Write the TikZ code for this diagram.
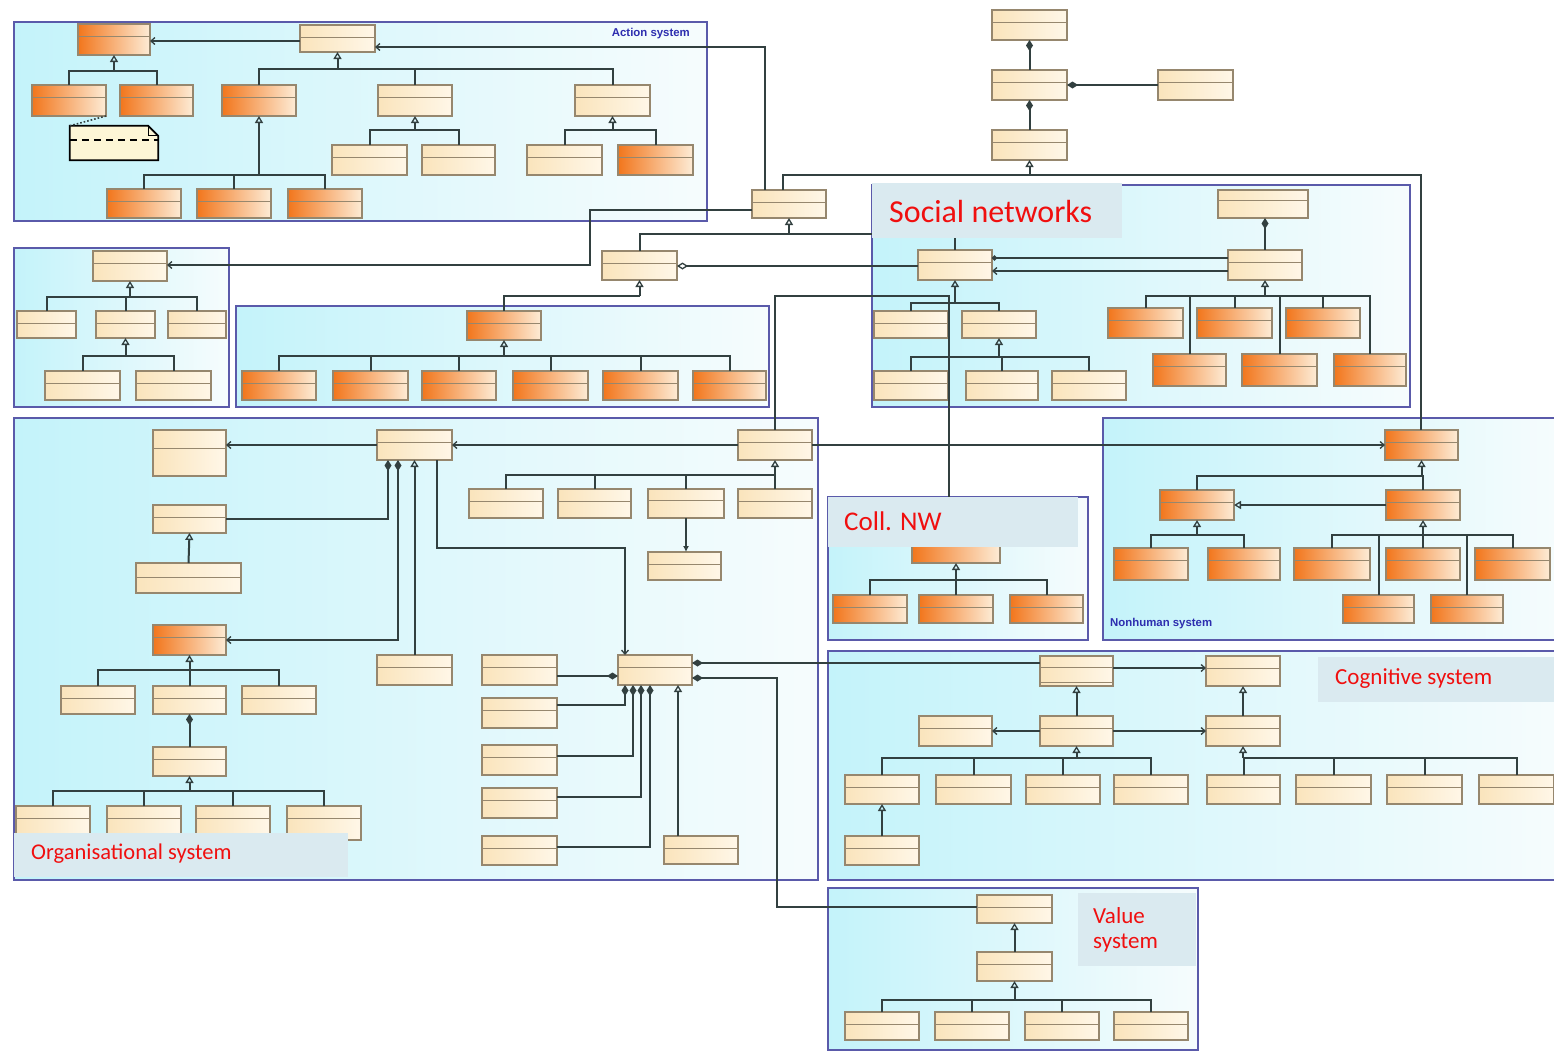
\documentclass[tikz,border=0pt]{standalone}
\usepackage{fontspec}
\setmainfont{Carlito}
\newfontfamily\lblfont{Carlito}
\newfontfamily\pkgfont{Liberation Sans}
\usetikzlibrary{arrows.meta}

\definecolor{linec}{RGB}{50,64,64}
\definecolor{boxedge}{RGB}{150,135,110}
\definecolor{creamL}{RGB}{250,228,188}
\definecolor{creamR}{RGB}{255,247,232}
\definecolor{orangeL}{RGB}{242,118,28}
\definecolor{orangeR}{RGB}{253,236,214}
\definecolor{frameC}{RGB}{90,90,170}
\definecolor{pkgL}{RGB}{196,243,250}
\definecolor{pkgR}{RGB}{246,252,253}
\definecolor{lblfill}{RGB}{218,234,240}
\definecolor{lblred}{RGB}{240,15,15}
\definecolor{pkgtxt}{RGB}{45,45,175}
\definecolor{notefill}{RGB}{253,246,214}

% header / second compartment offsets of a class box (in pt from its top)
\def\cbHdr{12}
\def\cbSec{0}

\tikzset{
  cls/.style={rectangle, draw=boxedge, line width=1.2pt, inner sep=0pt, outer sep=0pt,
    left color=creamL, right color=creamR,
    path picture={
      \draw[boxedge, line width=1pt]
        ([yshift=-\cbHdr pt]path picture bounding box.north west) --
        ([yshift=-\cbHdr pt]path picture bounding box.north east);
      \ifnum\cbSec>0
      \draw[boxedge, line width=1pt]
        ([yshift=-\cbSec pt]path picture bounding box.north west) --
        ([yshift=-\cbSec pt]path picture bounding box.north east);
      \fi}},
  orng/.style={left color=orangeL, right color=orangeR},
  hdr/.code={\def\cbHdr{#1}},
  line2/.code={\def\cbSec{#1}},
  conn/.style={draw=linec, line width=2pt},
  gen/.style={conn, -{Triangle[open, length=7pt, width=8pt, line width=1.3pt]}},
  comp/.style={conn, {Diamond[length=11pt, width=7pt]}-},
  compassoc/.style={conn, {Diamond[length=11pt, width=7pt]}-{Straight Barb[length=4pt, width=7pt, line width=1.3pt]}},
  agg/.style={conn, {Diamond[open, length=11pt, width=7pt, line width=1.3pt]}-},
  assoc/.style={conn, -{Straight Barb[length=4pt, width=7pt, line width=1.3pt]}},
  pkg/.style={draw=frameC, line width=1.4pt, left color=pkgL, right color=pkgR},
  redlbl/.style={text=lblred, inner sep=0pt, anchor=west},
  pkglbl/.style={text=pkgtxt, inner sep=0pt, font=\pkgfont\bfseries\fontsize{11.4}{13}\selectfont},
}

% class box from its corners: [options]{name}{x1}{y1}{x2}{y2}
\newcommand{\umlbox}[6][]{%
  \pgfmathsetmacro\ubW{#5-#3}%
  \pgfmathsetmacro\ubH{#6-#4}%
  \pgfmathsetmacro\ubX{(#3+#5)/2}%
  \pgfmathsetmacro\ubY{(#4+#6)/2}%
  \node[cls,#1,minimum width=\ubW pt,minimum height=\ubH pt] (#2) at (\ubX,\ubY) {};%
}
% generalisation tree: {parent}{bus y}{children}
\newcommand{\genbus}[3]{%
  \draw[gen] (#1.south |- 0,#2) -- (#1.south);
  \foreach \ch in {#3} {\draw[conn] (\ch.north) |- (#1.south |- 0,#2);}
}

\begin{document}
\begin{tikzpicture}[x=1pt,y=-1pt]
\useasboundingbox (0,0) rectangle (1554,1053);
\fill[white] (0,0) rectangle (1554,1053);

% ---------- packages ----------
\path[pkg] (14,22) rectangle (707,221);
\path[pkg] (14,248) rectangle (229,407);
\path[pkg] (236,306) rectangle (769,407);
\path[pkg] (872,185) rectangle (1410,407);
\path[pkg] (14,418) rectangle (818,880);
\path[pkg] (828,497) rectangle (1088,640);
\path[pkg] (1103,418) rectangle (1562,640);
\path[pkg] (828,651) rectangle (1562,880);
\path[pkg] (828,888) rectangle (1198,1050);

% ---------- action system ----------
\umlbox[orng]{A1}{78}{24}{150}{55}
\umlbox{A2}{300}{25}{375}{52}
\umlbox[orng]{Am1}{32}{85}{106}{116}
\umlbox[orng]{Am2}{120}{85}{193}{116}
\umlbox[orng]{Ao}{222}{85}{296}{116}
\umlbox{Ab}{378}{85}{452}{116}
\umlbox{Ac}{575}{85}{650}{116}
\umlbox[orng]{Ao1}{107}{189}{181}{218}
\umlbox[orng]{Ao2}{197}{189}{271}{218}
\umlbox[orng]{Ao3}{288}{189}{362}{218}
\umlbox{Ab1}{332}{145}{407}{175}
\umlbox{Ab2}{422}{145}{495}{175}
\umlbox{Ac1}{527}{145}{602}{175}
\umlbox[orng]{Ac2}{618}{145}{693}{175}

% note
\node[minimum width=88pt, minimum height=34pt, inner sep=0pt] (note) at (114,143) {};
\draw[fill=notefill, line width=1.8pt] (note.north west) -- ([xshift=-10pt]note.north east)
  -- ([yshift=-10pt]note.north east) -- (note.south east) -- (note.south west) -- cycle;
\draw[line width=1pt] ([xshift=-10pt]note.north east) |- ([yshift=-10pt]note.north east);
\draw[line width=2.2pt, dash pattern=on 7pt off 5pt] ([yshift=-14pt]note.north west) -- ([yshift=-14pt]note.north east);

% ---------- top classes ----------
\umlbox{S1}{752}{190}{826}{218}
\umlbox{S2}{602}{251}{677}{280}
\umlbox{T1}{992}{10}{1067}{40}
\umlbox{T2}{992}{70}{1067}{100}
\umlbox{T3}{992}{130}{1067}{160}
\umlbox{T4}{1158}{70}{1233}{100}

% ---------- capacity package ----------
\umlbox{Cap}{93}{251}{167}{281}
\umlbox{K1}{17}{311}{76}{338}
\umlbox{K2}{96}{311}{155}{338}
\umlbox{K3}{168}{311}{226}{338}
\umlbox{K21}{45}{371}{120}{400}
\umlbox{K22}{136}{371}{211}{400}

% ---------- middle package ----------
\umlbox[orng]{M0}{467}{311}{541}{340}
\umlbox[orng]{MC1}{242}{371}{316}{400}
\umlbox[orng]{MC2}{333}{371}{408}{400}
\umlbox[orng]{MC3}{422}{371}{496}{400}
\umlbox[orng]{MC4}{513}{371}{588}{400}
\umlbox[orng]{MC5}{603}{371}{678}{400}
\umlbox[orng]{MC6}{693}{371}{766}{400}

% ---------- social networks ----------
\umlbox[hdr=10]{Lead}{1218}{190}{1308}{218}
\umlbox{Indiv}{918}{250}{992}{280}
\umlbox{Rel}{1228}{250}{1302}{280}
\umlbox{Mem}{874}{311}{948}{338}
\umlbox{Act}{962}{311}{1036}{338}
\umlbox{AC1}{874}{371}{948}{400}
\umlbox{AC2}{966}{371}{1038}{400}
\umlbox{AC3}{1052}{371}{1126}{400}
\umlbox[orng]{R1}{1108}{308}{1183}{338}
\umlbox[orng]{R2}{1197}{308}{1272}{338}
\umlbox[orng]{R3}{1286}{308}{1360}{338}
\umlbox[orng]{R4}{1153}{354}{1226}{386}
\umlbox[orng]{R5}{1242}{354}{1317}{386}
\umlbox[orng]{R6}{1334}{354}{1406}{386}

% ---------- organisational system ----------
\umlbox[hdr=18]{IType}{153}{430}{226}{476}
\umlbox{Inst}{377}{430}{452}{460}
\umlbox{Ord}{153}{505}{226}{533}
\umlbox[hdr=14]{OrdC}{136}{563}{241}{593}
\umlbox[orng]{OrgO}{153}{625}{226}{655}
\umlbox{InstSub}{377}{655}{452}{685}
\umlbox{Org}{738}{430}{812}{460}
\umlbox{OC1}{469}{489}{543}{518}
\umlbox{OC2}{558}{489}{631}{518}
\umlbox[hdr=11]{OC3}{648}{489}{724}{518}
\umlbox{OC4}{738}{489}{812}{518}
\umlbox{OC3b}{648}{552}{721}{580}
\umlbox{OG1}{61}{686}{135}{714}
\umlbox{OG2}{153}{686}{226}{714}
\umlbox{OG3}{242}{686}{316}{714}
\umlbox{Team}{153}{747}{226}{776}
\umlbox{TM1}{16}{806}{90}{840}
\umlbox{TM2}{107}{806}{181}{840}
\umlbox{TM3}{196}{806}{270}{840}
\umlbox{TM4}{287}{806}{361}{840}
\umlbox{Ident}{618}{655}{692}{685}
\umlbox{L1}{482}{655}{557}{685}
\umlbox{L2}{482}{698}{557}{728}
\umlbox{L3}{482}{745}{557}{775}
\umlbox{L4}{482}{788}{557}{818}
\umlbox{L5}{482}{836}{557}{865}
\umlbox{Fast}{664}{836}{738}{864}

% ---------- collective networks ----------
\umlbox[orng]{CN0}{912}{533}{1000}{563}
\umlbox[orng]{CN1}{833}{595}{907}{623}
\umlbox[orng]{CN2}{919}{595}{993}{623}
\umlbox[orng]{CN3}{1010}{595}{1083}{623}

% ---------- nonhuman system ----------
\umlbox[orng]{NH0}{1385}{430}{1458}{460}
\umlbox[orng]{NHL}{1160}{490}{1234}{520}
\umlbox[orng]{NHR}{1386}{490}{1460}{520}
\umlbox[orng]{NL1}{1114}{548}{1188}{580}
\umlbox[orng]{NL2}{1208}{548}{1280}{580}
\umlbox[orng]{NR1}{1294}{548}{1370}{580}
\umlbox[orng]{NR2}{1386}{548}{1460}{580}
\umlbox[orng]{NR3}{1475}{548}{1550}{580}
\umlbox[orng]{NR4}{1343}{595}{1414}{623}
\umlbox[orng]{NR5}{1431}{595}{1503}{623}

% ---------- cognitive system ----------
\umlbox[hdr=11,line2=26]{Cat}{1040}{656}{1113}{686}
\umlbox{Att}{1206}{656}{1280}{686}
\umlbox{E}{1040}{716}{1113}{746}
\umlbox{CL}{919}{716}{992}{746}
\umlbox{CR}{1206}{716}{1280}{746}
\umlbox{CE1}{845}{775}{919}{804}
\umlbox{CE2}{936}{775}{1011}{804}
\umlbox{CE3}{1026}{775}{1100}{804}
\umlbox{CE4}{1114}{775}{1188}{804}
\umlbox{CF1}{1207}{775}{1280}{804}
\umlbox{CF2}{1296}{775}{1371}{804}
\umlbox{CF3}{1387}{775}{1462}{804}
\umlbox{CF4}{1479}{775}{1554}{804}
\umlbox{CE1b}{845}{836}{919}{865}

% ---------- value system ----------
\umlbox{VB1}{977}{895}{1052}{923}
\umlbox{VB2}{977}{952}{1052}{981}
\umlbox{VC1}{845}{1012}{919}{1040}
\umlbox{VC2}{935}{1012}{1009}{1040}
\umlbox{VC3}{1025}{1012}{1099}{1040}
\umlbox{VC4}{1114}{1012}{1188}{1040}

% ================= connectors =================
% action system
\draw[assoc] (A2.west |- 0,41) -- (A1.east |- 0,41);
\genbus{A1}{71}{Am1,Am2}
\genbus{A2}{69}{Ao,Ab,Ac}
\genbus{Ao}{175}{Ao1,Ao2,Ao3}
\genbus{Ab}{130}{Ab1,Ab2}
\genbus{Ac}{130}{Ac1,Ac2}
\draw[linec, line width=1.6pt, dotted] (note.north west) -- (Am1.south east);

% links leaving the action system
\draw[assoc] (S1.north -| 765,0) |- (A2.east |- 0,47);
\draw[assoc] (S1.west |- 0,210) -| (590,265) -- (Cap.east |- 0,265);

% top hierarchy
\draw[comp] (T1.south) -- (T2.north);
\draw[comp] (T2.south) -- (T3.north);
\draw[comp] (T2.east) -- (T4.west);
\draw[gen] (T3.south |- 0,175) -- (T3.south);
\draw[conn] ([xshift=-6pt]S1.north) |- (T3.south |- 0,175);
\draw[conn] ([xshift=-1pt]NH0.north) |- (T3.south |- 0,175);
\genbus{S1}{234}{S2,Indiv}
\genbus{S2}{296}{M0}
\draw[agg] (S2.east |- 0,266) -- (Indiv.west |- 0,266);

% organisation to collective network, nonhuman system and institution
\coordinate (cnTop) at ([xshift=-7pt]CN0.north);
\draw[conn] (Org.north) |- (cnTop |- 0,296) -- (cnTop);
\draw[assoc] (Org.west) -- (Org.west -| Inst.east);
\draw[assoc] (Org.east) -- (Org.east -| NH0.west);

% capacity and middle packages
\genbus{Cap}{297}{K1,K2,K3}
\genbus{K2}{356}{K21,K22}
\genbus{M0}{356}{MC1,MC2,MC3,MC4,MC5,MC6}

% social networks
\draw[comp] (Rel.north |- Lead.south) -- (Rel.north);
\draw[conn, {Circle[length=5pt]}-] (Indiv.east |- 0,258) -- (Rel.west |- 0,258);
\draw[assoc] (Rel.west |- 0,271) -- (Indiv.east |- 0,271);
\genbus{Indiv}{303}{Mem,Act}
\genbus{Act}{357}{AC1,AC2,AC3}
\genbus{Rel}{296}{R1,R2,R3,R4,R5,R6}

% organisational system
\draw[assoc] (Inst.west) -- (Inst.west -| IType.east);
\draw[comp] (Inst.south -| 388,0) |- (Ord.east);
\draw[compassoc] (Inst.south -| 398,0) |- (OrgO.east);
\draw[gen] (OrdC.north) -- (Ord.south);
\draw[gen] (InstSub.north) -- (InstSub.north |- Inst.south);
\draw[assoc] (Inst.south -| 437,0) |- (625,548) -- (Ident.north -| 625,0);
\genbus{Org}{475}{OC1,OC2,OC3,OC4}
\draw[conn, -{Latex[length=6pt, width=6pt]}] (OC3.south) -- (OC3.south |- OC3b.north);
\genbus{OrgO}{670}{OG1,OG2,OG3}
\draw[comp] (OG2.south) -- (Team.north);
\genbus{Team}{791}{TM1,TM2,TM3,TM4}
\draw[comp] (Ident.west |- 0,676) -- (L1.east |- 0,676);
\draw[comp] (Ident.south -| 625,0) |- (L2.east |- 0,705);
\draw[comp] (Ident.south -| 633,0) |- (L3.east |- 0,756);
\draw[comp] (Ident.south -| 641,0) |- (L4.east |- 0,797);
\draw[comp] (Ident.south -| 650,0) |- (L5.east |- 0,847);
\draw[gen] (Fast.north -| 678,0) -- (Ident.south -| 678,0);
\draw[comp] (Ident.east |- 0,663) -- (Cat.west |- 0,663);
\draw[comp] (Ident.east |- 0,678) -| (777,907) -- (VB1.west |- 0,907);

% collective networks
\genbus{CN0}{580}{CN1,CN2,CN3}

% nonhuman system
\genbus{NH0}{476}{NHL,NHR}
\draw[gen] (NHR.west) -- (NHR.west -| NHL.east);
\genbus{NHL}{535}{NL1,NL2}
\genbus{NHR}{535}{NR1,NR2,NR3,NR4,NR5}

% cognitive system
\draw[assoc] (Cat.east |- 0,668) -- (Att.west |- 0,668);
\draw[gen] (E.north) -- (Cat.south);
\draw[assoc] (E.west) -- (E.west -| CL.east);
\draw[assoc] (E.east) -- (E.east -| CR.west);
\draw[gen] (CR.north) -- (Att.south);
\genbus{E}{758}{CE1,CE2,CE3,CE4}
\genbus{CR}{758}{CF1,CF2,CF3,CF4}
\draw[gen] (CE1b.north) -- (CE1.south);

% value system
\draw[gen] (VB2.north) -- (VB1.south);
\genbus{VB2}{1000}{VC1,VC2,VC3,VC4}

% ================= package labels =================
\node[pkglbl, anchor=east] (tAct) at (690,34) {Action system};
\node[pkglbl, anchor=west] (tNH) at (1110,624) {Nonhuman system};

\fill[lblfill] (872,183) rectangle (1122,238);
\node[redlbl, font=\lblfont\fontsize{32}{38}\selectfont] (tSN) at (889,211) {Social networks};
\fill[lblfill] (828,497) rectangle (1078,547);
\node[redlbl, font=\lblfont\fontsize{27}{32}\selectfont] (tCN) at (844,521) {Coll. NW};
\fill[lblfill] (14,833) rectangle (348,877);
\node[redlbl, font=\lblfont\fontsize{22.5}{27}\selectfont] (tOrg) at (31,854) {Organisational system};
\fill[lblfill] (1318,657) rectangle (1554,702);
\node[redlbl, font=\lblfont\fontsize{23}{28}\selectfont] (tCog) at (1335,679) {Cognitive system};
\fill[lblfill] (1078,893) rectangle (1196,966);
\node[redlbl, font=\lblfont\fontsize{23}{28}\selectfont] (tVal1) at (1093,916) {Value};
\node[redlbl, font=\lblfont\fontsize{23}{28}\selectfont] (tVal2) at (1093,943) {system};
\end{tikzpicture}
\end{document}
